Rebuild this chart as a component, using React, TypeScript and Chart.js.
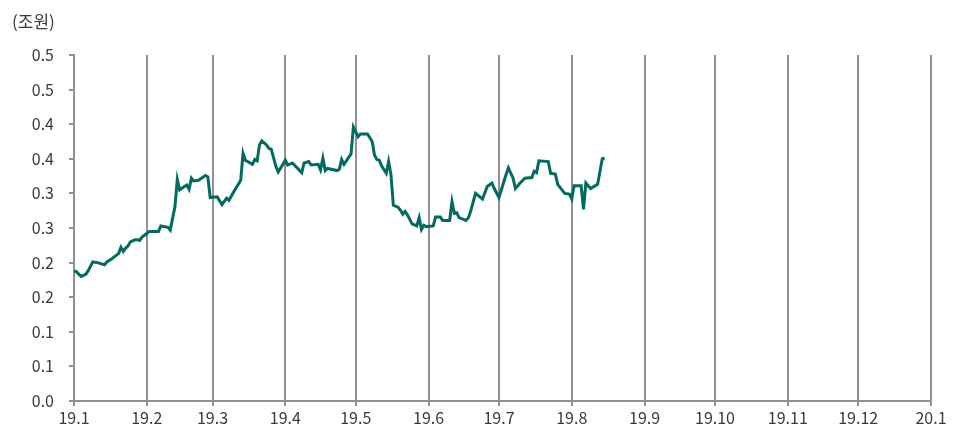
import React, { useEffect, useRef } from "react";
import { Chart, registerables } from "chart.js";

Chart.register(...registerables);

// days since 2019-01-01
const days: number[] = [
  0, 1, 3, 5, 6, 8, 10, 13, 14, 16, 17, 19, 20, 21, 22, 23, 24, 26, 27, 28, 29, 31, 32, 36, 37, 40, 41, 43, 44, 45, 47, 48, 49, 50, 51, 53, 56, 57, 58, 61, 63, 65, 66, 68, 71, 72, 73, 76, 77, 78, 79, 80, 82, 83, 84, 86, 87, 90, 91, 93, 97, 98, 100, 101, 104, 105, 106, 107, 108, 112, 113, 114, 115, 118, 119, 121, 122, 125, 127, 128, 129, 130, 131, 133, 134, 135, 136, 138, 139, 140, 141, 142, 144, 146, 147, 148, 149, 150, 153, 154, 156, 157, 160, 161, 162, 163, 164, 167, 168, 169, 171, 174, 176, 178, 179, 181, 184, 185, 187, 188, 190, 192, 195, 196, 197, 198, 202, 203, 205, 206, 209, 211, 212, 213, 216, 217, 218, 220, 223, 225, 226,
];
const values: number[] = [
  0.188, 0.187, 0.180, 0.183, 0.188, 0.201, 0.200, 0.197, 0.201, 0.205, 0.208, 0.213, 0.222, 0.216, 0.221, 0.224, 0.230, 0.233, 0.233, 0.232, 0.237, 0.242, 0.245, 0.245, 0.253, 0.251, 0.247, 0.281, 0.320, 0.305, 0.310, 0.312, 0.306, 0.322, 0.318, 0.319, 0.326, 0.324, 0.294, 0.295, 0.284, 0.293, 0.290, 0.302, 0.319, 0.358, 0.348, 0.342, 0.349, 0.347, 0.370, 0.376, 0.370, 0.365, 0.364, 0.339, 0.331, 0.348, 0.341, 0.344, 0.330, 0.344, 0.346, 0.341, 0.342, 0.334, 0.351, 0.333, 0.336, 0.333, 0.335, 0.349, 0.342, 0.357, 0.396, 0.382, 0.386, 0.386, 0.375, 0.355, 0.349, 0.348, 0.340, 0.329, 0.346, 0.327, 0.283, 0.280, 0.276, 0.270, 0.274, 0.269, 0.256, 0.253, 0.265, 0.248, 0.254, 0.252, 0.253, 0.266, 0.266, 0.261, 0.261, 0.288, 0.271, 0.272, 0.265, 0.261, 0.265, 0.275, 0.300, 0.292, 0.310, 0.315, 0.307, 0.294, 0.327, 0.337, 0.322, 0.307, 0.315, 0.322, 0.323, 0.332, 0.330, 0.347, 0.346, 0.329, 0.328, 0.313, 0.300, 0.299, 0.292, 0.311, 0.311, 0.277, 0.315, 0.307, 0.313, 0.350, 0.351,
];
const monthTicks: number[] = [0, 31, 59, 90, 120, 151, 181, 212, 243, 273, 304, 334, 365];
const monthLabels: string[] = [
  "19.1", "19.2", "19.3", "19.4", "19.5", "19.6", "19.7", "19.8", "19.9", "19.10", "19.11", "19.12", "20.1",
];
const unitLabel = "(조원)";

const FONT = "'Noto Sans CJK KR', 'Noto Sans', sans-serif";
const GRID = "#929292";
const TEXT = "#3a3a3a";

export default function App() {
  const ref = useRef<HTMLCanvasElement | null>(null);
  useEffect(() => {
    document.body.style.margin = "0";
    const canvas = ref.current;
    if (!canvas) return;
    const unitPlugin = {
      id: "unitLabel",
      afterDraw(chart: any) {
        const ctx = chart.ctx;
        ctx.save();
        ctx.font = `17px ${FONT}`;
        ctx.fillStyle = TEXT;
        ctx.textAlign = "left";
        ctx.textBaseline = "middle";
        ctx.fillText(unitLabel, 12, 22);
        ctx.restore();
      },
    };
    const chart = new Chart(canvas, {
      type: "line",
      data: {
        datasets: [
          {
            data: days.map((d, i) => ({ x: d, y: values[i] })),
            borderColor: "#006b5e",
            borderWidth: 3,
            pointRadius: 0,
            tension: 0,
            fill: false,
          },
        ],
      },
      options: {
        responsive: false,
        animation: false,
        layout: { padding: { top: 55, right: 33, left: 0, bottom: 0 } },
        plugins: { legend: { display: false }, tooltip: { enabled: false }, title: { display: false } },
        scales: {
          x: {
            type: "linear",
            min: 0,
            max: 365,
            afterBuildTicks: (scale: any) => {
              scale.ticks = monthTicks.map((v) => ({ value: v }));
            },
            afterFit: (scale: any) => {
              scale.height = 31;
            },
            ticks: {
              autoSkip: false,
              maxRotation: 0,
              padding: 2,
              color: TEXT,
              font: { family: FONT, size: 16 },
              callback: (v: any) => {
                const i = monthTicks.indexOf(Number(v));
                return i >= 0 ? monthLabels[i] : "";
              },
            },
            grid: { color: GRID, lineWidth: 2, drawTicks: true, tickLength: 5, drawOnChartArea: true },
            border: { display: true, color: GRID, width: 2 },
          },
          y: {
            min: 0,
            max: 0.5,
            afterFit: (scale: any) => {
              scale.width = 74;
            },
            ticks: {
              stepSize: 0.05,
              padding: 15,
              color: TEXT,
              font: { family: FONT, size: 16 },
              callback: (v: any) => {
                const k = Math.round(Number(v) / 0.05);
                return (Math.ceil(k / 2) / 10).toFixed(1);
              },
            },
            grid: { color: GRID, lineWidth: 2, drawTicks: true, tickLength: 5, drawOnChartArea: false },
            border: { display: true, color: GRID, width: 2 },
          },
        },
      },
      plugins: [unitPlugin],
    });
    return () => chart.destroy();
  }, []);
  return (
    <div style={{ width: 964, height: 432 }}>
      <canvas ref={ref} width={964} height={432} style={{ display: "block" }} />
    </div>
  );
}
